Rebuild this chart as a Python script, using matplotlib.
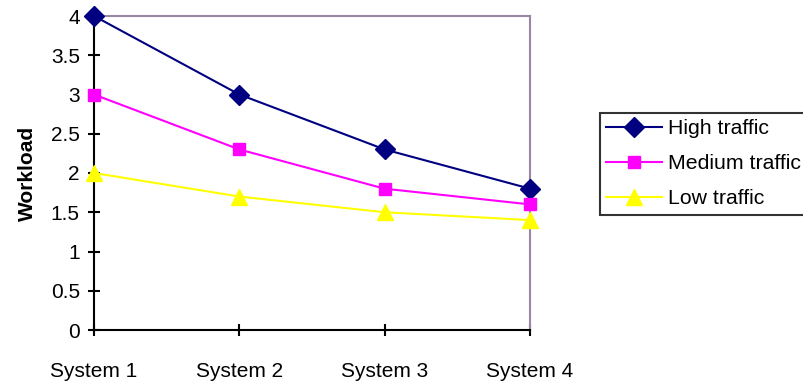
import matplotlib
matplotlib.use("Agg")
from matplotlib import pyplot as plt

# data
systems = ["System 1", "System 2", "System 3", "System 4"]
high = [4.0, 3.0, 2.3, 1.8]
medium = [3.0, 2.3, 1.8, 1.6]
low = [2.0, 1.7, 1.5, 1.4]
yticks = [0, 0.5, 1, 1.5, 2, 2.5, 3, 3.5, 4]

plt.rcParams['font.family'] = ['Liberation Sans', 'DejaVu Sans']
plt.rcParams['font.size'] = 15

fig = plt.figure(figsize=(8.04, 3.81), dpi=100)
ax = fig.add_axes([94/804, 51/381, 436/804, 314/381])

x = range(len(systems))
ax.plot(x, high, color='#000080', lw=1.5, marker='D', ms=10, label='High traffic', clip_on=False, zorder=3)
ax.plot(x, medium, color='#ff00ff', lw=1.5, marker='s', ms=9, label='Medium traffic', clip_on=False, zorder=3)
ax.plot(x, low, color='#ffff00', lw=1.5, marker='^', ms=11, label='Low traffic', clip_on=False, zorder=3)

ax.set_xlim(0, 3)
ax.set_ylim(0, 4)
ax.set_xticks(list(x))
ax.set_xticklabels(systems)
ax.set_yticks(yticks)
ax.set_yticklabels(['0', '0.5', '1', '1.5', '2', '2.5', '3', '3.5', '4'])
ax.tick_params(direction='inout', length=8.5, width=1.5, color='black')
ax.tick_params(axis='x', pad=19)
ax.tick_params(axis='y', pad=6)

for s in ['left', 'bottom']:
    ax.spines[s].set_color('black')
    ax.spines[s].set_linewidth(1.5)
for s in ['top', 'right']:
    ax.spines[s].set_color('#9a86a4')
    ax.spines[s].set_linewidth(1.5)

ax.set_ylabel('Workload', fontweight='bold', labelpad=10)

leg = fig.legend(loc='upper left', bbox_to_anchor=(600/804, 268/381),
                 frameon=True, fancybox=False, edgecolor='black',
                 prop={'size': 15.3},
                 handlelength=2.6, handletextpad=0.3, labelspacing=0.75,
                 borderpad=0.3, borderaxespad=0)
leg.get_frame().set_linewidth(1.5)

fig.savefig('out.png', dpi=100)
